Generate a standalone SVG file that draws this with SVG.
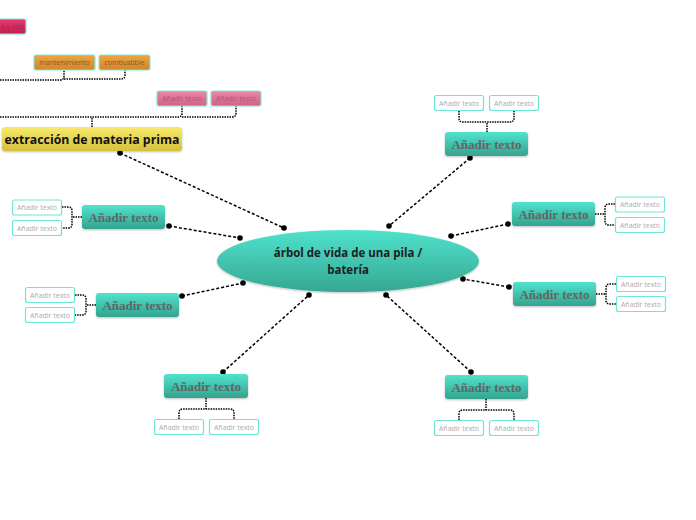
<svg xmlns="http://www.w3.org/2000/svg" width="696" height="520" viewBox="0 0 696 520">
<defs>
<linearGradient id="gTeal" x1="0" y1="0" x2="0" y2="1"><stop offset="0" stop-color="#50e3cd"/><stop offset="1" stop-color="#34a38e"/></linearGradient>
<linearGradient id="gEll" x1="0" y1="0" x2="0" y2="1"><stop offset="0" stop-color="#4fe2cc"/><stop offset="1" stop-color="#36a793"/></linearGradient>
<linearGradient id="gYel" x1="0" y1="0" x2="0" y2="1"><stop offset="0" stop-color="#f8ea6c"/><stop offset="1" stop-color="#d4c03c"/></linearGradient>
<linearGradient id="gPink" x1="0" y1="0" x2="0" y2="1"><stop offset="0" stop-color="#eb86a6"/><stop offset="1" stop-color="#d65f84"/></linearGradient>
<linearGradient id="gOr" x1="0" y1="0" x2="0" y2="1"><stop offset="0" stop-color="#eda541"/><stop offset="1" stop-color="#d3852a"/></linearGradient>
<linearGradient id="gRed" x1="0" y1="0" x2="0" y2="1"><stop offset="0" stop-color="#e63c70"/><stop offset="1" stop-color="#c41d50"/></linearGradient>
<filter id="sh" x="-10%" y="-20%" width="120%" height="150%"><feDropShadow dx="0" dy="1" stdDeviation="1" flood-color="#000" flood-opacity="0.25"/></filter>
</defs>
<style>
.main{fill:url(#gTeal);filter:url(#sh)}
.mt{font-family:"Liberation Serif",serif;font-weight:bold;font-size:13px;fill:#5f6666;text-anchor:middle}
.child{fill:#fff;stroke:#6ee6d6;stroke-width:1.2}
.ct{font-family:"Open Sans",sans-serif;font-size:7px;fill:#ababab;text-anchor:middle}
.sub{stroke:#7fe8d8;stroke-width:1.2}
.pt{font-family:"Open Sans",sans-serif;font-size:7px;fill:#a85a78;text-anchor:middle}
.ot{font-family:"Open Sans",sans-serif;font-size:7px;fill:#7a5a35;text-anchor:middle}
.dash{fill:none;stroke:#000;stroke-width:1.5;stroke-dasharray:3,2}
.dot{fill:none;stroke:#000;stroke-width:1.5;stroke-dasharray:1.5,1}
.end{fill:#000}
</style>

<g id="connectors">
<path class="dash" d="M120,153 L284,228"/>
<path class="dash" d="M470,158 L389,226"/>
<path class="dash" d="M508,224 L451,236"/>
<path class="dash" d="M509,287 L463,279"/>
<path class="dash" d="M169,226 L240,238"/>
<path class="dash" d="M182,296 L243,283"/>
<path class="dash" d="M223,372 L309,295"/>
<path class="dash" d="M471,372 L386,295"/>
<circle class="end" cx="120" cy="153" r="2.8"/><circle class="end" cx="284" cy="228" r="2.8"/>
<circle class="end" cx="470" cy="158" r="2.8"/><circle class="end" cx="389" cy="226" r="2.8"/>
<circle class="end" cx="508" cy="224" r="2.8"/><circle class="end" cx="451" cy="236" r="2.8"/>
<circle class="end" cx="509" cy="287" r="2.8"/><circle class="end" cx="463" cy="279" r="2.8"/>
<circle class="end" cx="169" cy="226" r="2.8"/><circle class="end" cx="240" cy="238" r="2.8"/>
<circle class="end" cx="182" cy="296" r="2.8"/><circle class="end" cx="243" cy="283" r="2.8"/>
<circle class="end" cx="223" cy="372" r="2.8"/><circle class="end" cx="309" cy="295" r="2.8"/>
<circle class="end" cx="471" cy="372" r="2.8"/><circle class="end" cx="386" cy="295" r="2.8"/>
<path class="dot" d="M92,127 V117"/>
<path class="dot" d="M0,117 H178 Q182,117 182,113 V106"/>
<path class="dot" d="M182,117 H232 Q236,117 236,113 V106"/>
<path class="dot" d="M0,80 H60 Q64,80 64,76 V70"/>
<path class="dot" d="M64,79 H121 Q125,79 125,75 V70"/>
<path class="dot" d="M487,132 V122"/>
<path class="dot" d="M459,111 V118 Q459,122 463,122 H510 Q514,122 514,118 V111"/>
<path class="dot" d="M595,214 H605"/>
<path class="dot" d="M615,204 H609 Q605,204 605,208 V221 Q605,225 609,225 H615"/>
<path class="dot" d="M596,294 H606"/>
<path class="dot" d="M616,284 H610 Q606,284 606,288 V300 Q606,304 610,304 H616"/>
<path class="dot" d="M82,217 H72"/>
<path class="dot" d="M62,207 H68 Q72,207 72,211 V224 Q72,228 68,228 H62"/>
<path class="dot" d="M96,305 H86"/>
<path class="dot" d="M75,295 H82 Q86,295 86,299 V311 Q86,315 82,315 H75"/>
<path class="dot" d="M206,398 V409"/>
<path class="dot" d="M179,419 V413 Q179,409 183,409 H230 Q234,409 234,413 V419"/>
<path class="dot" d="M486,399 V410"/>
<path class="dot" d="M459,420 V414 Q459,410 463,410 H510 Q514,410 514,414 V420"/>
</g>

<g id="center">
<ellipse cx="348" cy="261" rx="131" ry="31" fill="url(#gEll)" filter="url(#sh)"/>
<text x="348" y="257" font-family="Open Sans, sans-serif" font-weight="bold" font-size="11.5" fill="#1e1e1e" text-anchor="middle">árbol de vida de una pila /</text>
<text x="348" y="274" font-family="Open Sans, sans-serif" font-weight="bold" font-size="11.5" fill="#1e1e1e" text-anchor="middle">batería</text>
</g>

<g id="extraccion">
<rect x="2" y="127" width="180" height="24" rx="3" fill="url(#gYel)" filter="url(#sh)"/>
<text x="92" y="144" font-family="Open Sans, sans-serif" font-weight="bold" font-size="12.3" fill="#111" text-anchor="middle">extracción de materia prima</text>
</g>

<g id="pink1"><rect class="sub" x="157" y="91" width="50" height="15" rx="2" fill="url(#gPink)"/><text class="pt" x="182" y="101">Añadir texto</text></g>
<g id="pink2"><rect class="sub" x="211" y="91" width="50" height="15" rx="2" fill="url(#gPink)"/><text class="pt" x="236" y="101">Añadir texto</text></g>
<g id="mantenimiento"><rect class="sub" x="34" y="55" width="61" height="15" rx="2" fill="url(#gOr)"/><text class="ot" x="64.5" y="65">mantenimiento</text></g>
<g id="combustible"><rect class="sub" x="99" y="55" width="51" height="15" rx="2" fill="url(#gOr)"/><text class="ot" x="124.5" y="65">combustible</text></g>
<g id="rios"><rect class="sub" x="-30" y="19" width="56" height="15" rx="2" fill="url(#gRed)"/><text x="24" y="29" font-family="Open Sans, sans-serif" font-size="7" fill="#9a2a4a" text-anchor="end">s y ríos</text></g>

<g id="n-topright"><rect class="main" x="445" y="132" width="83" height="24" rx="3"/><text class="mt" x="486.5" y="149">Añadir texto</text></g>
<g id="n-rightup"><rect class="main" x="512" y="202" width="83" height="24" rx="3"/><text class="mt" x="553.5" y="219">Añadir texto</text></g>
<g id="n-rightlow"><rect class="main" x="513" y="282" width="83" height="24" rx="3"/><text class="mt" x="554.5" y="299">Añadir texto</text></g>
<g id="n-leftup"><rect class="main" x="82" y="205" width="83" height="24" rx="3"/><text class="mt" x="123.5" y="222">Añadir texto</text></g>
<g id="n-leftlow"><rect class="main" x="96" y="293" width="83" height="24" rx="3"/><text class="mt" x="137.5" y="310">Añadir texto</text></g>
<g id="n-botleft"><rect class="main" x="164" y="374" width="84" height="24" rx="3"/><text class="mt" x="206" y="391">Añadir texto</text></g>
<g id="n-botright"><rect class="main" x="445" y="375" width="83" height="24" rx="3"/><text class="mt" x="486.5" y="392">Añadir texto</text></g>

<g id="c1"><rect class="child" x="434.5" y="95.5" width="49" height="15" rx="2"/><text class="ct" x="459" y="105.5">Añadir texto</text></g>
<g id="c2"><rect class="child" x="489.5" y="95.5" width="49" height="15" rx="2"/><text class="ct" x="514" y="105.5">Añadir texto</text></g>
<g id="c3"><rect class="child" x="615.5" y="197" width="49" height="15" rx="2"/><text class="ct" x="640" y="207">Añadir texto</text></g>
<g id="c4"><rect class="child" x="615.5" y="217.5" width="49" height="15" rx="2"/><text class="ct" x="640" y="227.5">Añadir texto</text></g>
<g id="c5"><rect class="child" x="616.5" y="276.5" width="49" height="15" rx="2"/><text class="ct" x="641" y="286.5">Añadir texto</text></g>
<g id="c6"><rect class="child" x="616.5" y="296.5" width="49" height="15" rx="2"/><text class="ct" x="641" y="306.5">Añadir texto</text></g>
<g id="c7"><rect class="child" x="12.5" y="200" width="49" height="15" rx="2"/><text class="ct" x="37" y="210">Añadir texto</text></g>
<g id="c8"><rect class="child" x="12.5" y="220.5" width="49" height="15" rx="2"/><text class="ct" x="37" y="230.5">Añadir texto</text></g>
<g id="c9"><rect class="child" x="25.5" y="287.5" width="49" height="15" rx="2"/><text class="ct" x="50" y="297.5">Añadir texto</text></g>
<g id="c10"><rect class="child" x="25.5" y="307.5" width="49" height="15" rx="2"/><text class="ct" x="50" y="317.5">Añadir texto</text></g>
<g id="c11"><rect class="child" x="154.5" y="419.5" width="49" height="15" rx="2"/><text class="ct" x="179" y="429.5">Añadir texto</text></g>
<g id="c12"><rect class="child" x="209.5" y="419.5" width="49" height="15" rx="2"/><text class="ct" x="234" y="429.5">Añadir texto</text></g>
<g id="c13"><rect class="child" x="434.5" y="420.5" width="49" height="15" rx="2"/><text class="ct" x="459" y="430.5">Añadir texto</text></g>
<g id="c14"><rect class="child" x="489.5" y="420.5" width="49" height="15" rx="2"/><text class="ct" x="514" y="430.5">Añadir texto</text></g>
</svg>
